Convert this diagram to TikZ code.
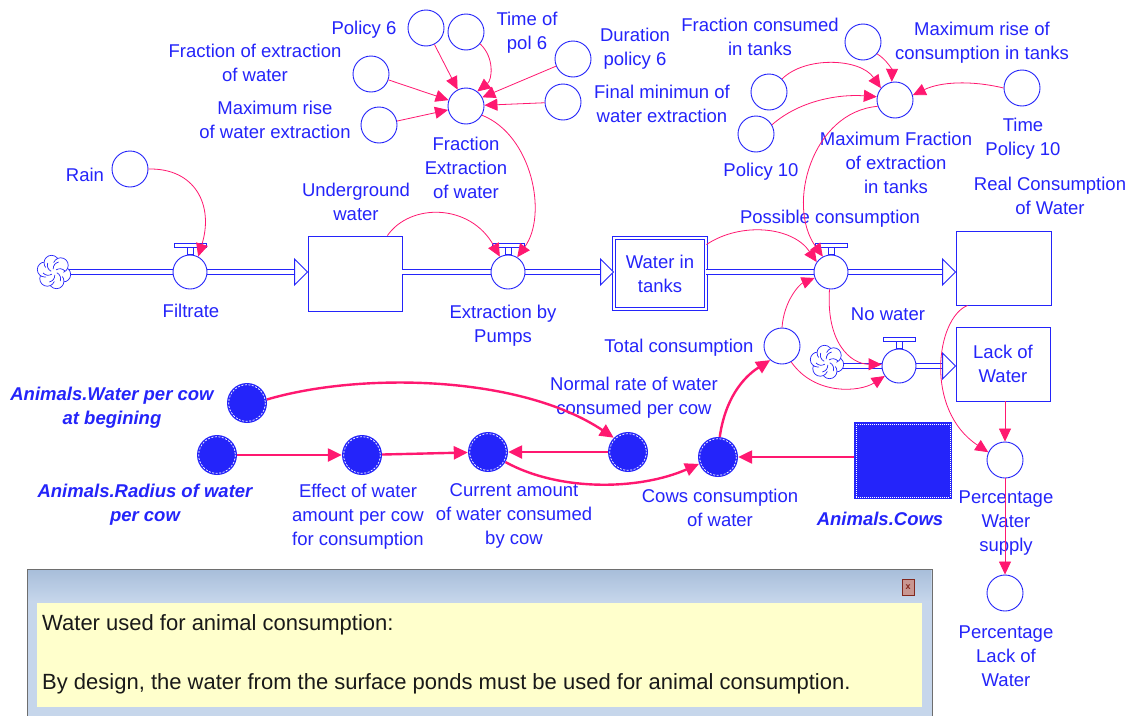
\documentclass[tikz,border=0pt]{standalone}
\usepackage{fontspec}
\setmainfont{Liberation Sans}
\usetikzlibrary{arrows.meta}

\definecolor{simblue}{RGB}{36,36,250}
\definecolor{linkpink}{RGB}{255,24,112}
\definecolor{notebar}{RGB}{168,190,218}
\definecolor{notebarlow}{RGB}{198,214,235}
\definecolor{noteyellow}{RGB}{255,255,204}
\definecolor{noteframe}{RGB}{110,110,110}
\definecolor{closered}{RGB}{130,40,30}
\definecolor{closefill}{RGB}{200,150,145}

\newcommand\lblfont{\fontsize{18.5}{24}\selectfont}

\tikzset{
  aux/.style={circle, draw=simblue, line width=0.9pt, fill=white, minimum size=36pt, inner sep=0pt},
  valve/.style={circle, draw=simblue, line width=0.9pt, fill=white, minimum size=34pt, inner sep=0pt},
  ghost/.style={circle, fill=simblue, minimum size=40pt, inner sep=0pt},
  stock/.style={rectangle, draw=simblue, line width=0.9pt, fill=white, inner sep=0pt,
                text=simblue, align=center, font=\lblfont},
  lbl/.style={text=simblue, align=center, inner sep=0pt, font=\lblfont},
  blbl/.style={text=simblue, align=center, inner sep=0pt, font=\lblfont\bfseries\itshape},
  link/.style={draw=linkpink, line width=0.8pt, -{Triangle[length=13pt,width=12pt]}},
  tlink/.style={draw=linkpink, line width=2.4pt, -{Triangle[length=14pt,width=13pt]}},
  pipe/.style={draw=simblue, line width=0.9pt, double=white, double distance=4pt},
  cloudsrc/.style={inner sep=0pt, minimum size=34pt},
}

\begin{document}
\begin{tikzpicture}[x=1pt, y=-1pt]
\useasboundingbox (0,0) rectangle (1132,715);
\fill[white] (0,0) rectangle (1132,715);

% ---------- stocks ----------
\node[stock, minimum width=94pt, minimum height=75pt] (ug) at (355,273.5) {};
\node[stock, minimum width=92pt, minimum height=71pt, double=white, double distance=2.5pt] (wt) at (660,273.5) {Water in\\tanks};
\node[stock, minimum width=95pt, minimum height=74pt] (real) at (1003.5,268) {};
\node[stock, minimum width=94pt, minimum height=74pt] (lack) at (1003,364) {Lack of\\Water};

% ---------- sources ----------
\node[cloudsrc] (cloudA) at (54,272) {};
\node[cloudsrc] (cloudB) at (827,362) {};

% ---------- flow valves (positions) ----------
\coordinate (filtc) at (190,272);
\coordinate (extrc) at (508,272);
\coordinate (possc) at (831,272);
\coordinate (nowatc) at (899,366);

% ---------- pipes ----------
\draw[pipe] (cloudA.center) -- ([xshift=-13pt]filtc -| ug.west);
\draw[pipe] (filtc -| ug.east) -- ([xshift=-13pt]extrc -| wt.west);
\draw[pipe] (extrc -| wt.east) -- ([xshift=-13pt]possc -| real.west);
\draw[pipe] (nowatc -| cloudB.center) -- ([xshift=-13pt]nowatc -| lack.west);

% clouds
\foreach \c in {cloudA,cloudB}{
  \foreach \a in {15,75,...,315}
    \draw[simblue, line width=0.7pt, fill=white] ([shift={(\a:9.5)}]\c.center) circle (7.5);
  \fill[white] (\c.center) circle (9.5);
  \foreach \a in {15,75,...,315}
    \draw[simblue, line width=0.7pt] ([shift={(\a:3)}]\c.center) to[bend left=40] ([shift={(\a+40:11)}]\c.center);
}

% valves
\node[valve] (filt) at (filtc) {};
\node[valve] (extr) at (extrc) {};
\node[valve] (poss) at (possc) {};
\node[valve] (nowat) at (nowatc) {};
\foreach \v in {filt,extr,poss,nowat}{
  \draw[simblue, line width=0.9pt, fill=white] ([shift={(-3,-25)}]\v.center) rectangle ([shift={(3,-17.5)}]\v.center);
  \draw[simblue, line width=0.9pt, fill=white] ([shift={(-16,-29)}]\v.center) rectangle ([shift={(16,-25)}]\v.center);
}

% hollow pipe heads
\foreach \v/\s in {filtc/ug, extrc/wt, possc/real, nowatc/lack}{
  \coordinate (pipetip) at (\v -| \s.west);
  \draw[simblue, line width=0.9pt, fill=white, line join=miter]
    ([shift={(-13,-13)}]pipetip) -- (pipetip) -- ([shift={(-13,13)}]pipetip) -- cycle;
}

% ---------- auxiliaries ----------
\node[aux] (p6)    at (426,28)  {};
\node[aux] (tp6)   at (466,32)  {};
\node[aux] (dp6)   at (573,59)  {};
\node[aux] (fmin)  at (563,102) {};
\node[aux] (fext)  at (371,74)  {};
\node[aux] (mrise) at (379,125) {};
\node[aux] (fe)    at (466,106) {};
\node[aux] (rain)  at (130,169) {};
\node[aux] (fcons) at (769,92)  {};
\node[aux] (mrc)   at (863,42)  {};
\node[aux] (pol10) at (756,134) {};
\node[aux] (mf)    at (895,100) {};
\node[aux] (tpol10) at (1022,88) {};
\node[aux] (totc)  at (782,346) {};
\node[aux] (pws)   at (1005,460) {};
\node[aux] (plw)   at (1005,593) {};

% ghost (shadow) variables
\node[ghost] (wpc)  at (247,403) {};
\node[ghost] (rad)  at (217,455) {};
\node[ghost] (eff)  at (362,455) {};
\node[ghost] (cur)  at (488,452) {};
\node[ghost] (norm) at (628,452) {};
\node[ghost] (cowc) at (718,457) {};
\foreach \g in {wpc,rad,eff,cur,norm,cowc}
  \draw[white, line width=0.7pt, dash pattern=on 2pt off 1.5pt] (\g.center) circle (18.3);
\node[rectangle, fill=simblue, minimum width=98pt, minimum height=77pt, inner sep=0pt] (cows) at (903,460.5) {};
\draw[white, line width=0.6pt, dash pattern=on 1pt off 1pt]
  ([shift={(2,2)}]cows.north west) rectangle ([shift={(-2,-2)}]cows.south east);

% ---------- labels ----------
\node[lbl] (lp6)    at (364,30)   {Policy 6};
\node[lbl] (ltp6)   at (527,33)   {Time of\\pol 6};
\node[lbl] (ldp6)   at (635,49)   {Duration\\policy 6};
\node[lbl] (lfmin)  at (662,104)  {Final minimun of\\water extraction};
\node[lbl] (lfext)  at (255,63)   {Fraction of extraction\\of water};
\node[lbl] (lmrise) at (275,120)  {Maximum rise\\of water extraction};
\node[lbl] (lfe)    at (466,168)  {Fraction\\Extraction\\of water};
\node[lbl] (lrain)  at (85,175)   {Rain};
\node[lbl] (lug)    at (356,202)  {Underground\\water};
\node[lbl] (lfilt)  at (191,311)  {Filtrate};
\node[lbl] (lextr)  at (503,326)  {Extraction by\\Pumps};
\node[lbl] (lposs)  at (830,219)  {Possible consumption};
\node[lbl] (lfcons) at (760,37)   {Fraction consumed\\in tanks};
\node[lbl] (lmrc)   at (982,43)   {Maximum rise of\\consumption in tanks};
\node[lbl] (lpol10) at (761,172)  {Policy 10};
\node[lbl] (lmf)    at (896,163)  {Maximum Fraction\\of extraction\\in tanks};
\node[lbl] (ltpol10) at (1023,139) {Time\\Policy 10};
\node[lbl] (lreal)  at (1050,196) {Real Consumption\\of Water};
\node[lbl] (lnowat) at (888,314)  {No water};
\node[lbl] (ltotc)  at (679,348)  {Total consumption};
\node[lbl] (lpws)   at (1006,523) {Percentage\\Water\\supply};
\node[lbl] (lplw)   at (1006,656) {Percentage\\Lack of\\Water};
\node[blbl] (lwpc)  at (112,408)  {Animals.Water per cow\\at begining};
\node[blbl] (lrad)  at (145,505)  {Animals.Radius of water\\per cow};
\node[lbl] (leff)   at (358,517)  {Effect of water\\amount per cow\\for consumption};
\node[lbl] (lcur)   at (514,516)  {Current amount\\of water consumed\\by cow};
\node[lbl] (lnorm)  at (634,398)  {Normal rate of water\\consumed per cow};
\node[lbl] (lcowc)  at (720,508)  {Cows consumption\\of water};
\node[blbl] (lcows) at (880,519)  {Animals.Cows};

% ---------- thin links ----------
\draw[link] (rain.0) .. controls (195,168) and (214,205) .. (filt.62);
\draw[link] ([xshift=-15pt]ug.north east) .. controls (410,203) and (470,203) .. (extr.118);
\draw[link] (fe.-30) .. controls (532,135) and (548,215) .. (extr.58);
\draw[link] ([yshift=-7pt]wt.north east) .. controls (740,222) and (792,226) .. (poss.145);
\draw[link] (mf.200) .. controls (812,112) and (786,205) .. (poss.118);
\draw[link] (totc.90) .. controls (784,300) and (800,284) .. (poss.200);
\draw[link] (poss.-95) .. controls (826,342) and (850,364) .. (nowat.175);
\draw[link] (totc.-60) .. controls (815,396) and (860,392) .. (nowat.215);
\draw[link] ([xshift=12pt]real.south west) .. controls (936,318) and (924,410) .. (pws.155);
\draw[link] (pws |- lack.south) -- (pws.north);
\draw[link] (pws.south) -- (plw.north);

\draw[link] (p6) -- (fe);
\draw[link] (tp6.-40) .. controls (495,58) and (492,80) .. (fe.52);
\draw[link] (dp6) -- (fe.28);
\draw[link] (fmin) -- (fe);
\draw[link] (fext) -- (fe);
\draw[link] (mrise) -- (fe);

\draw[link] (mrc.-40) .. controls (887,60) and (892,70) .. (mf.100);
\draw[link] (fcons.45) .. controls (805,56) and (860,58) .. (mf.140);
\draw[link] (pol10.30) .. controls (800,100) and (840,94) .. (mf.170);
\draw[link] (tpol10.180) .. controls (970,80) and (940,82) .. (mf.15);

% ---------- thick links ----------
\draw[tlink] (wpc.10) .. controls (360,372) and (520,375) .. (norm.135);
\draw[tlink] (rad) -- (eff);
\draw[tlink] (eff) -- (cur);
\draw[tlink] (norm) -- (cur);
\draw[tlink] (cur.-30) .. controls (560,492) and (640,490) .. (cowc.200);
\draw[tlink] (cowc -| cows.west) -- (cowc);
\draw[tlink] (cowc.85) .. controls (725,400) and (742,378) .. (totc.-130);

% ---------- note window ----------
\fill[notebarlow] (27,569) rectangle (932,716);
\shade[top color=notebar, bottom color=notebarlow] (28,570) rectangle (931,601);
\draw[noteframe, line width=1pt] (27,716) -- (27,569) -- (932,569) -- (932,716);
\fill[noteyellow] (37,603) rectangle (922,707);
\node[draw=closered, fill=closefill, line width=0.9pt, minimum width=12pt, minimum height=16pt, inner sep=0pt,
      font=\fontsize{9}{9}\selectfont\bfseries, text=closered] (closebtn) at (908,587) {x};
\node[anchor=base west, inner sep=0pt, font=\fontsize{22}{26}\selectfont, text={rgb,255:red,25;green,25;blue,25}]
  (notel1) at (42,630) {Water used for animal consumption:};
\node[anchor=base west, inner sep=0pt, font=\fontsize{22}{26}\selectfont, text={rgb,255:red,25;green,25;blue,25}]
  (notel2) at (42,689) {By design, the water from the surface ponds must be used for animal consumption.};
\end{tikzpicture}
\end{document}
